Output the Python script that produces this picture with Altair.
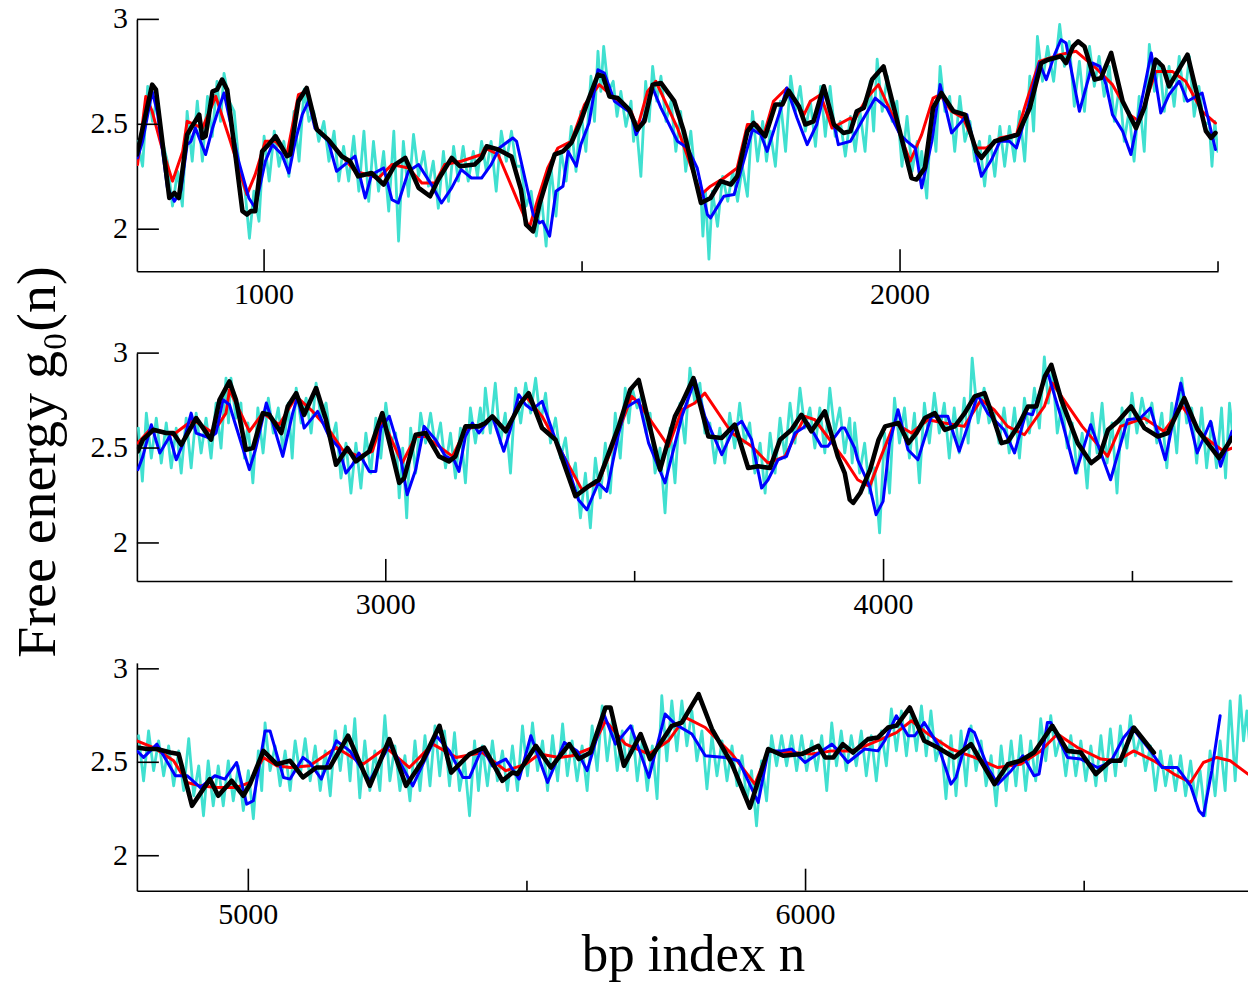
import altair as alt
import pandas as pd

FONT = "Liberation Serif"

# ---------------- Panel 1 (bp 800 - 2500) ----------------
black1 = [(800,2.356),(824,2.689),(830,2.665),(851,2.149),(859,2.173),(866,2.149),(879,2.451),(885,2.482),(898,2.546),(903,2.435),(908,2.443),(919,2.657),(926,2.665),(934,2.713),(942,2.665),(966,2.086),(973,2.070),(979,2.086),(986,2.086),(997,2.371),(1007,2.403),(1018,2.443),(1036,2.348),(1041,2.356),(1054,2.610),(1067,2.673),(1083,2.475),(1101,2.427),(1122,2.348),(1135,2.324),(1148,2.252),(1169,2.268),(1188,2.213),(1206,2.308),(1222,2.340),(1243,2.197),(1261,2.157),(1274,2.237),(1295,2.340),(1308,2.300),(1331,2.308),(1342,2.340),(1350,2.395),(1368,2.380),(1389,2.346),(1404,2.187),(1412,2.022),(1423,1.990),(1433,2.118),(1444,2.229),(1457,2.356),(1470,2.371),(1483,2.411),(1498,2.514),(1509,2.610),(1525,2.737),(1533,2.729),(1543,2.633),(1556,2.625),(1574,2.570),(1587,2.475),(1598,2.514),(1611,2.689),(1624,2.697),(1645,2.610),(1660,2.467),(1687,2.125),(1702,2.149),(1718,2.229),(1734,2.213),(1744,2.252),(1760,2.467),(1770,2.506),(1781,2.467),(1788,2.443),(1804,2.594),(1815,2.594),(1825,2.660),(1841,2.586),(1851,2.499),(1864,2.514),(1880,2.681),(1896,2.499),(1911,2.459),(1922,2.467),(1932,2.562),(1943,2.578),(1956,2.713),(1974,2.776),(2018,2.244),(2026,2.237),(2039,2.292),(2052,2.578),(2065,2.649),(2084,2.562),(2102,2.546),(2120,2.371),(2128,2.340),(2149,2.419),(2167,2.435),(2185,2.451),(2204,2.578),(2222,2.792),(2233,2.808),(2253,2.824),(2261,2.792),(2272,2.871),(2280,2.895),(2290,2.871),(2306,2.713),(2316,2.720),(2332,2.840),(2350,2.610),(2371,2.482),(2384,2.578),(2402,2.808),(2413,2.776),(2423,2.681),(2452,2.832),(2481,2.467),(2489,2.435),(2496,2.459)]
blue1 = [(801,2.340),(809,2.419),(824,2.657),(832,2.562),(848,2.197),(859,2.133),(869,2.181),(879,2.403),(885,2.419),(892,2.482),(908,2.356),(919,2.482),(929,2.578),(937,2.649),(960,2.324),(976,2.149),(986,2.101),(1002,2.324),(1013,2.403),(1028,2.356),(1039,2.268),(1049,2.419),(1060,2.546),(1070,2.610),(1080,2.482),(1101,2.419),(1114,2.276),(1143,2.348),(1159,2.149),(1169,2.260),(1188,2.292),(1201,2.141),(1211,2.125),(1227,2.276),(1243,2.308),(1263,2.213),(1279,2.125),(1295,2.197),(1310,2.284),(1326,2.244),(1342,2.244),(1357,2.308),(1370,2.387),(1391,2.435),(1397,2.419),(1423,2.070),(1433,2.030),(1438,2.038),(1449,1.967),(1459,2.181),(1470,2.205),(1478,2.371),(1491,2.300),(1498,2.403),(1511,2.506),(1525,2.760),(1535,2.744),(1551,2.610),(1577,2.554),(1585,2.451),(1598,2.530),(1611,2.673),(1624,2.578),(1650,2.419),(1666,2.387),(1681,2.292),(1697,2.070),(1702,2.054),(1723,2.157),(1739,2.165),(1754,2.324),(1768,2.475),(1781,2.451),(1791,2.371),(1812,2.570),(1822,2.673),(1838,2.530),(1854,2.403),(1869,2.499),(1882,2.665),(1898,2.475),(1903,2.403),(1922,2.419),(1937,2.499),(1961,2.625),(1979,2.578),(2000,2.451),(2011,2.419),(2024,2.387),(2034,2.197),(2050,2.419),(2063,2.689),(2081,2.459),(2097,2.514),(2105,2.546),(2128,2.252),(2144,2.332),(2157,2.419),(2172,2.419),(2183,2.387),(2199,2.554),(2219,2.792),(2230,2.713),(2243,2.832),(2253,2.903),(2261,2.887),(2282,2.562),(2303,2.792),(2314,2.776),(2324,2.689),(2334,2.546),(2350,2.467),(2363,2.356),(2395,2.840),(2410,2.554),(2423,2.641),(2439,2.705),(2452,2.610),(2475,2.649),(2496,2.380)]
red1 = [(801,2.308),(814,2.633),(824,2.562),(838,2.403),(856,2.229),(872,2.371),(879,2.514),(903,2.482),(924,2.633),(947,2.419),(973,2.165),(986,2.260),(1002,2.419),(1018,2.419),(1036,2.356),(1054,2.641),(1067,2.657),(1083,2.482),(1112,2.387),(1143,2.276),(1180,2.244),(1201,2.308),(1227,2.292),(1248,2.220),(1269,2.220),(1284,2.308),(1310,2.324),(1342,2.356),(1347,2.387),(1368,2.356),(1399,2.133),(1417,2.006),(1431,2.149),(1446,2.292),(1462,2.387),(1483,2.419),(1504,2.594),(1527,2.689),(1551,2.625),(1577,2.562),(1587,2.482),(1603,2.657),(1616,2.705),(1650,2.482),(1687,2.165),(1702,2.205),(1723,2.244),(1744,2.292),(1760,2.499),(1775,2.499),(1786,2.451),(1801,2.610),(1822,2.673),(1849,2.546),(1859,2.610),(1875,2.641),(1893,2.482),(1922,2.530),(1927,2.514),(1948,2.625),(1966,2.689),(1990,2.530),(2016,2.324),(2034,2.451),(2052,2.625),(2063,2.641),(2081,2.562),(2099,2.530),(2120,2.387),(2136,2.387),(2157,2.435),(2183,2.451),(2199,2.610),(2219,2.800),(2251,2.832),(2277,2.848),(2308,2.768),(2334,2.689),(2361,2.546),(2376,2.514),(2402,2.752),(2428,2.752),(2449,2.705),(2475,2.562),(2496,2.506)]
cyan1_x = [801,817,832,848,864,879,895,911,926,937,953,970,984,1000,1016,1031,1047,1063,1078,1094,1110,1125,1141,1157,1172,1188,1204,1219,1235,1251,1266,1282,1298,1313,1329,1342,1357,1373,1389,1404,1420,1436,1451,1467,1483,1498,1514,1525,1534,1549,1561,1577,1585,1600,1611,1624,1640,1655,1671,1686,1694,1705,1721,1737,1752,1768,1784,1796,1812,1828,1843,1859,1875,1890,1906,1922,1937,1953,1964,1980,1995,2011,2027,2034,2050,2063,2078,2094,2110,2125,2141,2157,2172,2188,2204,2216,2232,2251,2266,2282,2298,2313,2329,2345,2360,2376,2392,2408,2423,2439,2455,2470,2486,2495]
cyan1_hi = [2.419,2.681,2.633,2.324,2.276,2.562,2.610,2.633,2.705,2.743,2.562,2.181,2.181,2.443,2.467,2.419,2.562,2.667,2.562,2.514,2.467,2.395,2.443,2.467,2.419,2.371,2.467,2.419,2.452,2.371,2.324,2.371,2.395,2.395,2.371,2.419,2.419,2.467,2.467,2.300,2.181,2.157,2.300,2.371,2.490,2.562,2.729,2.848,2.871,2.705,2.657,2.610,2.514,2.705,2.776,2.729,2.610,2.562,2.467,2.229,2.181,2.181,2.252,2.276,2.300,2.562,2.514,2.467,2.610,2.729,2.681,2.610,2.681,2.681,2.514,2.538,2.562,2.705,2.810,2.729,2.610,2.538,2.419,2.371,2.610,2.776,2.633,2.633,2.514,2.419,2.443,2.490,2.490,2.562,2.729,2.919,2.871,2.976,2.895,2.800,2.871,2.824,2.776,2.681,2.562,2.633,2.881,2.800,2.776,2.824,2.824,2.681,2.514,2.514]
cyan1_lo = [2.300,2.514,2.419,2.110,2.110,2.324,2.324,2.443,2.514,2.610,2.276,1.957,2.038,2.229,2.300,2.252,2.324,2.514,2.419,2.324,2.229,2.229,2.181,2.133,2.181,2.086,1.943,2.157,2.252,2.205,2.100,2.133,2.229,2.229,2.252,2.276,2.181,2.324,2.300,2.110,1.967,1.919,2.062,2.229,2.276,2.371,2.514,2.657,2.657,2.538,2.490,2.419,2.252,2.514,2.610,2.514,2.371,2.276,2.229,1.967,1.857,2.014,2.133,2.133,2.157,2.324,2.324,2.300,2.371,2.562,2.467,2.395,2.443,2.443,2.348,2.371,2.371,2.467,2.562,2.514,2.300,2.276,2.252,2.148,2.371,2.562,2.371,2.419,2.324,2.205,2.252,2.300,2.324,2.324,2.467,2.705,2.705,2.776,2.586,2.562,2.681,2.633,2.514,2.419,2.324,2.371,2.657,2.562,2.586,2.610,2.538,2.490,2.300,2.371]

# ---------------- Panel 2 (bp 2500 - 4700) ----------------
black2 = [(2502,2.483),(2512,2.544),(2533,2.596),(2559,2.579),(2573,2.579),(2589,2.517),(2619,2.658),(2633,2.605),(2649,2.544),(2666,2.754),(2686,2.851),(2699,2.754),(2719,2.491),(2733,2.5),(2753,2.684),(2766,2.675),(2790,2.579),(2803,2.719),(2820,2.789),(2836,2.675),(2860,2.816),(2880,2.649),(2900,2.412),(2923,2.5),(2940,2.430),(2967,2.483),(2993,2.684),(3027,2.316),(3037,2.342),(3060,2.570),(3080,2.579),(3107,2.456),(3127,2.430),(3140,2.456),(3160,2.614),(3187,2.614),(3200,2.632),(3214,2.667),(3241,2.588),(3271,2.737),(3287,2.789),(3314,2.605),(3341,2.544),(3381,2.246),(3407,2.298),(3428,2.333),(3468,2.614),(3491,2.807),(3508,2.859),(3551,2.386),(3581,2.667),(3595,2.737),(3618,2.868),(3648,2.561),(3675,2.553),(3701,2.623),(3728,2.395),(3748,2.404),(3772,2.395),(3792,2.544),(3815,2.596),(3835,2.675),(3855,2.588),(3882,2.693),(3908,2.456),(3922,2.368),(3932,2.228),(3939,2.211),(3953,2.263),(3973,2.386),(3990,2.544),(4003,2.614),(4030,2.632),(4050,2.526),(4066,2.579),(4083,2.658),(4103,2.684),(4123,2.596),(4143,2.614),(4163,2.684),(4183,2.772),(4203,2.789),(4217,2.684),(4237,2.526),(4250,2.535),(4270,2.614),(4290,2.719),(4307,2.719),(4324,2.877),(4337,2.938),(4357,2.754),(4390,2.526),(4417,2.421),(4434,2.456),(4451,2.596),(4471,2.641),(4497,2.719),(4524,2.605),(4551,2.561),(4571,2.579),(4604,2.763),(4631,2.596),(4674,2.447),(4700,2.553)]
blue2 = [(2502,2.386),(2512,2.456),(2529,2.623),(2546,2.474),(2566,2.562),(2579,2.438),(2593,2.526),(2609,2.684),(2619,2.579),(2646,2.553),(2659,2.579),(2673,2.754),(2686,2.728),(2696,2.641),(2726,2.386),(2739,2.5),(2760,2.737),(2773,2.632),(2793,2.456),(2813,2.684),(2823,2.772),(2836,2.605),(2863,2.693),(2886,2.562),(2906,2.5),(2920,2.368),(2933,2.412),(2946,2.474),(2967,2.377),(2980,2.377),(2990,2.605),(3007,2.667),(3027,2.491),(3043,2.254),(3060,2.386),(3077,2.614),(3100,2.544),(3120,2.456),(3137,2.438),(3147,2.377),(3160,2.562),(3174,2.632),(3187,2.579),(3200,2.623),(3214,2.667),(3237,2.483),(3250,2.596),(3267,2.781),(3281,2.728),(3294,2.702),(3314,2.746),(3341,2.544),(3361,2.438),(3387,2.228),(3404,2.175),(3427,2.316),(3444,2.272),(3468,2.579),(3481,2.711),(3508,2.754),(3528,2.526),(3561,2.316),(3595,2.667),(3621,2.860),(3641,2.667),(3675,2.465),(3701,2.614),(3715,2.641),(3735,2.544),(3755,2.289),(3768,2.333),(3788,2.438),(3805,2.456),(3822,2.579),(3838,2.605),(3848,2.632),(3875,2.509),(3888,2.509),(3915,2.605),(3922,2.605),(3942,2.5),(3948,2.438),(3972,2.298),(3985,2.149),(3999,2.219),(4012,2.526),(4029,2.702),(4049,2.491),(4069,2.438),(4096,2.667),(4116,2.667),(4129,2.667),(4152,2.483),(4169,2.614),(4189,2.781),(4209,2.684),(4242,2.596),(4263,2.474),(4286,2.684),(4299,2.675),(4329,2.904),(4356,2.667),(4386,2.368),(4416,2.623),(4456,2.333),(4490,2.649),(4516,2.658),(4536,2.711),(4566,2.438),(4597,2.842),(4630,2.474),(4657,2.641),(4677,2.404),(4700,2.588)]
red2 = [(2502,2.526),(2526,2.596),(2573,2.570),(2613,2.649),(2653,2.579),(2679,2.684),(2686,2.807),(2726,2.588),(2753,2.684),(2786,2.623),(2820,2.772),(2853,2.693),(2886,2.596),(2913,2.491),(2946,2.456),(2973,2.483),(2993,2.649),(3033,2.421),(3060,2.561),(3080,2.561),(3134,2.456),(3160,2.596),(3200,2.632),(3214,2.667),(3240,2.596),(3281,2.772),(3314,2.667),(3394,2.281),(3427,2.316),(3461,2.544),(3494,2.772),(3508,2.737),(3568,2.509),(3595,2.702),(3621,2.737),(3641,2.789),(3695,2.579),(3735,2.509),(3768,2.421),(3802,2.456),(3842,2.667),(3862,2.649),(3922,2.438),(3948,2.333),(3972,2.298),(3995,2.456),(4022,2.632),(4056,2.579),(4089,2.649),(4122,2.632),(4162,2.614),(4196,2.754),(4222,2.702),(4249,2.614),(4283,2.570),(4323,2.719),(4339,2.842),(4399,2.614),(4450,2.456),(4476,2.614),(4523,2.658),(4563,2.588),(4600,2.719),(4643,2.561),(4683,2.483),(4700,2.5)]
cyan2_x = [2503,2519,2539,2559,2579,2599,2619,2639,2659,2679,2689,2709,2723,2743,2764,2784,2804,2820,2840,2860,2880,2900,2920,2940,2960,2980,3000,3020,3034,3050,3070,3090,3110,3130,3150,3170,3190,3200,3220,3240,3261,3281,3301,3321,3341,3361,3381,3401,3421,3441,3461,3481,3495,3515,3531,3551,3571,3591,3611,3631,3651,3671,3691,3711,3731,3752,3772,3792,3812,3832,3852,3872,3892,3912,3932,3942,3962,3982,4002,4022,4042,4062,4082,4102,4122,4142,4162,4178,4202,4222,4242,4263,4283,4303,4323,4339,4359,4379,4399,4419,4439,4459,4479,4499,4519,4539,4559,4579,4599,4619,4639,4659,4679,4695]
cyan2_hi = [2.605,2.684,2.658,2.632,2.605,2.658,2.684,2.658,2.737,2.868,2.868,2.737,2.632,2.711,2.763,2.711,2.737,2.816,2.763,2.842,2.737,2.632,2.526,2.526,2.579,2.658,2.737,2.579,2.5,2.605,2.684,2.684,2.632,2.579,2.605,2.711,2.711,2.816,2.842,2.684,2.816,2.842,2.868,2.789,2.658,2.553,2.421,2.368,2.447,2.526,2.684,2.816,2.816,2.789,2.684,2.5,2.605,2.737,2.921,2.842,2.632,2.605,2.684,2.737,2.632,2.526,2.579,2.658,2.737,2.816,2.711,2.711,2.816,2.711,2.658,2.632,2.526,2.395,2.579,2.763,2.711,2.684,2.737,2.789,2.737,2.711,2.763,2.974,2.816,2.684,2.711,2.711,2.763,2.816,2.98,2.921,2.737,2.632,2.579,2.684,2.737,2.632,2.711,2.789,2.763,2.737,2.684,2.737,2.868,2.711,2.711,2.632,2.711,2.737]
cyan2_lo = [2.326,2.447,2.421,2.395,2.368,2.395,2.474,2.447,2.5,2.632,2.658,2.447,2.316,2.474,2.579,2.474,2.447,2.632,2.579,2.658,2.526,2.342,2.263,2.289,2.368,2.447,2.526,2.237,2.132,2.368,2.526,2.5,2.395,2.342,2.316,2.526,2.579,2.579,2.526,2.368,2.632,2.684,2.632,2.526,2.447,2.316,2.132,2.079,2.237,2.263,2.447,2.632,2.711,2.579,2.368,2.158,2.316,2.526,2.737,2.579,2.421,2.421,2.5,2.526,2.368,2.263,2.368,2.447,2.526,2.605,2.5,2.474,2.579,2.474,2.421,2.368,2.263,2.053,2.263,2.526,2.447,2.316,2.526,2.579,2.447,2.474,2.526,2.632,2.632,2.526,2.474,2.447,2.579,2.605,2.737,2.579,2.5,2.368,2.289,2.474,2.421,2.263,2.5,2.579,2.632,2.526,2.395,2.474,2.632,2.421,2.395,2.395,2.342,2.526]

# ---------------- Panel 3 (bp 4800 - 6800) ----------------
black3 = [(4800,2.579),(4818,2.571),(4836,2.571),(4860,2.552),(4875,2.544),(4899,2.267),(4931,2.410),(4946,2.321),(4970,2.401),(4991,2.321),(5003,2.383),(5027,2.561),(5051,2.490),(5075,2.508),(5098,2.419),(5122,2.472),(5146,2.472),(5179,2.642),(5218,2.374),(5253,2.624),(5283,2.374),(5313,2.508),(5343,2.695),(5364,2.445),(5397,2.544),(5423,2.579),(5456,2.401),(5474,2.445),(5483,2.437),(5516,2.588),(5543,2.472),(5576,2.597),(5593,2.517),(5614,2.552),(5641,2.793),(5650,2.793),(5674,2.481),(5704,2.651),(5721,2.517),(5760,2.695),(5778,2.713),(5808,2.865),(5832,2.678),(5868,2.490),(5900,2.258),(5933,2.571),(5960,2.535),(5993,2.544),(6023,2.588),(6035,2.526),(6050,2.526),(6067,2.597),(6085,2.552),(6112,2.624),(6130,2.633),(6148,2.686),(6163,2.695),(6187,2.793),(6213,2.615),(6237,2.579),(6267,2.526),(6297,2.597),(6339,2.383),(6363,2.490),(6386,2.508),(6410,2.552),(6443,2.695),(6470,2.561),(6494,2.552),(6521,2.437),(6547,2.508),(6565,2.508),(6589,2.686),(6625,2.552)]
blue3 = [(4800,2.561),(4812,2.526),(4836,2.597),(4869,2.428),(4890,2.428),(4914,2.365),(4940,2.428),(4958,2.410),(4979,2.499),(4997,2.276),(5009,2.294),(5030,2.668),(5039,2.668),(5063,2.419),(5075,2.410),(5098,2.526),(5110,2.499),(5131,2.410),(5158,2.615),(5182,2.561),(5218,2.401),(5254,2.597),(5295,2.374),(5337,2.642),(5361,2.561),(5385,2.419),(5397,2.419),(5420,2.579),(5438,2.481),(5462,2.517),(5486,2.410),(5507,2.642),(5537,2.392),(5567,2.606),(5590,2.561),(5608,2.455),(5638,2.758),(5659,2.597),(5686,2.695),(5719,2.419),(5748,2.758),(5766,2.704),(5796,2.651),(5820,2.535),(5856,2.526),(5880,2.508),(5915,2.285),(5933,2.561),(5957,2.561),(5975,2.571),(5999,2.499),(6047,2.597),(6059,2.561),(6076,2.499),(6106,2.571),(6130,2.561),(6142,2.615),(6163,2.749),(6184,2.642),(6196,2.642),(6213,2.713),(6237,2.597),(6261,2.383),(6270,2.419),(6294,2.678),(6303,2.659),(6327,2.472),(6345,2.383),(6369,2.455),(6390,2.535),(6410,2.428),(6419,2.437),(6434,2.713),(6440,2.713),(6470,2.526),(6494,2.517),(6524,2.472),(6547,2.499),(6571,2.633),(6586,2.686),(6619,2.561),(6640,2.472),(6667,2.472),(6691,2.374),(6706,2.241),(6714,2.214),(6729,2.455),(6744,2.749)]
red3 = [(4800,2.615),(4830,2.579),(4866,2.508),(4890,2.392),(4914,2.374),(4943,2.365),(4979,2.365),(5003,2.392),(5027,2.526),(5051,2.481),(5075,2.472),(5110,2.481),(5158,2.579),(5206,2.490),(5247,2.579),(5289,2.472),(5331,2.597),(5373,2.526),(5420,2.552),(5462,2.455),(5498,2.490),(5522,2.544),(5558,2.526),(5581,2.535),(5617,2.579),(5641,2.722),(5677,2.597),(5719,2.544),(5754,2.615),(5784,2.740),(5820,2.686),(5868,2.544),(5909,2.383),(5933,2.561),(5975,2.552),(6011,2.544),(6047,2.561),(6082,2.561),(6100,2.579),(6136,2.624),(6163,2.659),(6190,2.722),(6220,2.651),(6261,2.571),(6303,2.526),(6345,2.472),(6386,2.490),(6422,2.561),(6452,2.651),(6488,2.579),(6530,2.517),(6559,2.508),(6589,2.561),(6625,2.508),(6661,2.437),(6691,2.392),(6714,2.499),(6738,2.526),(6762,2.508),(6794,2.437)]
cyan3_x = [4803,4821,4839,4857,4875,4893,4911,4928,4946,4964,4982,5000,5018,5030,5048,5066,5084,5102,5120,5138,5156,5174,5191,5209,5227,5245,5263,5281,5299,5317,5335,5352,5370,5388,5406,5420,5438,5456,5474,5492,5510,5528,5546,5564,5581,5599,5617,5635,5653,5671,5689,5707,5725,5742,5760,5778,5796,5814,5832,5850,5868,5886,5903,5921,5939,5957,5975,5993,6011,6029,6047,6064,6082,6100,6118,6136,6154,6172,6190,6208,6225,6243,6261,6279,6297,6315,6333,6351,6369,6386,6404,6422,6440,6458,6476,6494,6512,6530,6547,6565,6583,6601,6619,6637,6655,6673,6691,6708,6726,6744,6762,6780,6792]
cyan3_hi = [2.642,2.668,2.615,2.588,2.561,2.626,2.481,2.508,2.481,2.508,2.481,2.455,2.561,2.711,2.588,2.561,2.615,2.626,2.588,2.561,2.668,2.695,2.733,2.615,2.561,2.749,2.588,2.535,2.615,2.642,2.695,2.668,2.658,2.508,2.615,2.588,2.615,2.561,2.588,2.695,2.711,2.615,2.642,2.706,2.615,2.588,2.695,2.802,2.722,2.668,2.695,2.615,2.588,2.856,2.829,2.829,2.775,2.668,2.642,2.615,2.588,2.535,2.455,2.508,2.642,2.642,2.642,2.642,2.615,2.642,2.711,2.668,2.642,2.668,2.642,2.668,2.786,2.775,2.775,2.802,2.775,2.615,2.642,2.668,2.695,2.615,2.535,2.588,2.615,2.642,2.615,2.733,2.749,2.642,2.642,2.615,2.588,2.642,2.679,2.695,2.749,2.642,2.588,2.561,2.535,2.535,2.508,2.455,2.561,2.615,2.829,2.856,2.775]
cyan3_lo = [2.401,2.455,2.428,2.374,2.348,2.321,2.214,2.267,2.267,2.294,2.241,2.198,2.348,2.455,2.374,2.348,2.428,2.401,2.348,2.321,2.455,2.401,2.310,2.348,2.348,2.401,2.348,2.294,2.348,2.374,2.428,2.374,2.348,2.214,2.348,2.374,2.401,2.348,2.348,2.428,2.455,2.348,2.401,2.428,2.401,2.348,2.455,2.508,2.455,2.455,2.401,2.348,2.305,2.508,2.561,2.588,2.508,2.358,2.428,2.401,2.374,2.294,2.160,2.294,2.481,2.481,2.455,2.455,2.455,2.348,2.481,2.455,2.481,2.428,2.401,2.481,2.561,2.535,2.561,2.535,2.508,2.305,2.321,2.374,2.455,2.374,2.267,2.348,2.374,2.348,2.401,2.508,2.535,2.428,2.428,2.401,2.374,2.401,2.428,2.481,2.535,2.455,2.348,2.374,2.348,2.321,2.294,2.214,2.321,2.348,2.401,2.615,2.561]

Y_TICKS = [2, 2.5, 3]
Y_LABELS = ["2", "2.5", "3"]


def line_df(pts):
    return pd.DataFrame({"x": [p[0] for p in pts], "y": [p[1] for p in pts], "i": list(range(len(pts)))})


def cyan_df(xs, hi, lo):
    rx, ry = [], []
    for k, x in enumerate(xs):
        nxt = xs[k + 1] if k + 1 < len(xs) else 2 * x - xs[k - 1]
        rx += [x, (x + nxt) / 2]
        ry += [hi[k], lo[k]]
    return pd.DataFrame({"x": rx, "y": ry, "i": list(range(len(rx)))})


def panel(xdom, width, height, ydom, major, minor, cyan, red, blue, black, extra=None):
    xs = alt.Scale(domain=xdom, nice=False, zero=False)
    ys = alt.Scale(domain=ydom, nice=False, zero=False)
    xax = alt.Axis(values=major, labels=False, ticks=False, grid=False,
                   domainColor="black", domainWidth=1.6, title=None)
    yax = alt.Axis(values=Y_TICKS, labels=False, ticks=False, grid=False,
                   domainColor="black", domainWidth=1.6, title=None)

    def enc(ch):
        return ch.encode(x=alt.X("x:Q", scale=xs, axis=xax, title=None),
                         y=alt.Y("y:Q", scale=ys, axis=yax, title=None),
                         order="i:Q")

    lk = dict(clip=True, strokeJoin="round", strokeCap="round")
    layers = [
        enc(alt.Chart(cyan).mark_line(color="#40E0D0", strokeWidth=2.8, **lk)),
        enc(alt.Chart(red).mark_line(color="#FF0000", strokeWidth=3, **lk)),
        enc(alt.Chart(blue).mark_line(color="#0000FF", strokeWidth=3, **lk)),
        enc(alt.Chart(black).mark_line(color="#000000", strokeWidth=4.6, **lk)),
        alt.Chart(pd.DataFrame({"v": major})).mark_rule(color="black", strokeWidth=1.6).encode(
            x=alt.X("v:Q", scale=xs, axis=xax, title=None),
            y=alt.value(height), y2=alt.value(height - 22)),
        alt.Chart(pd.DataFrame({"v": minor})).mark_rule(color="black", strokeWidth=1.6).encode(
            x=alt.X("v:Q", scale=xs, axis=xax, title=None),
            y=alt.value(height), y2=alt.value(height - 10)),
        alt.Chart(pd.DataFrame({"v": Y_TICKS})).mark_rule(color="black", strokeWidth=1.6).encode(
            y=alt.Y("v:Q", scale=ys, axis=yax, title=None),
            x=alt.value(0), x2=alt.value(22)),
        # tick labels as text
        alt.Chart(pd.DataFrame({"v": major, "t": [str(m) for m in major]})).mark_text(
            font=FONT, fontSize=30, align="center", baseline="top", color="black").encode(
            x=alt.X("v:Q", scale=xs, axis=xax, title=None),
            y=alt.value(height + 9), text="t:N"),
        alt.Chart(pd.DataFrame({"v": Y_TICKS, "t": Y_LABELS})).mark_text(
            font=FONT, fontSize=30, align="right", baseline="middle", color="black").encode(
            y=alt.Y("v:Q", scale=ys, axis=yax, title=None),
            x=alt.value(-9), text="t:N"),
    ]
    if extra:
        layers += extra
    return alt.layer(*layers).properties(width=width, height=height)


ytitle = alt.Chart(pd.DataFrame({"t": ["Free energy g\u2080(n)"]})).mark_text(
    font=FONT, fontSize=56, angle=270, align="center", baseline="middle", color="black"
).encode(text="t:N", x=alt.value(-99), y=alt.value(109))

xtitle = alt.Chart(pd.DataFrame({"t": ["bp index n"]})).mark_text(
    font=FONT, fontSize=53, align="center", baseline="alphabetic", color="black"
).encode(text="t:N", x=alt.value(557), y=alt.value(308))

p1 = panel([800, 2500], 1082, 252, [1.8, 3.0], [1000, 2000], [1500, 2500],
           cyan_df(cyan1_x, cyan1_hi, cyan1_lo), line_df(red1), line_df(blue1), line_df(black1))
p2 = panel([2500, 4700], 1096, 228, [1.8, 3.0], [3000, 4000], [3500, 4500],
           cyan_df(cyan2_x, cyan2_hi, cyan2_lo), line_df(red2), line_df(blue2), line_df(black2),
           extra=[ytitle])
p3 = panel([4800, 6794], 1112, 228, [1.813, 3.032], [5000, 6000], [5500, 6500],
           cyan_df(cyan3_x, cyan3_hi, cyan3_lo), line_df(red3), line_df(blue3), line_df(black3),
           extra=[xtitle])

chart = alt.vconcat(p1, p2, p3, spacing=82, bounds="flush").properties(
    padding={"left": 9, "top": 4, "right": 0, "bottom": 0}
).configure(font=FONT).configure_view(stroke=None)

chart.save("out.html", embed_options={"renderer": "svg", "actions": False})
